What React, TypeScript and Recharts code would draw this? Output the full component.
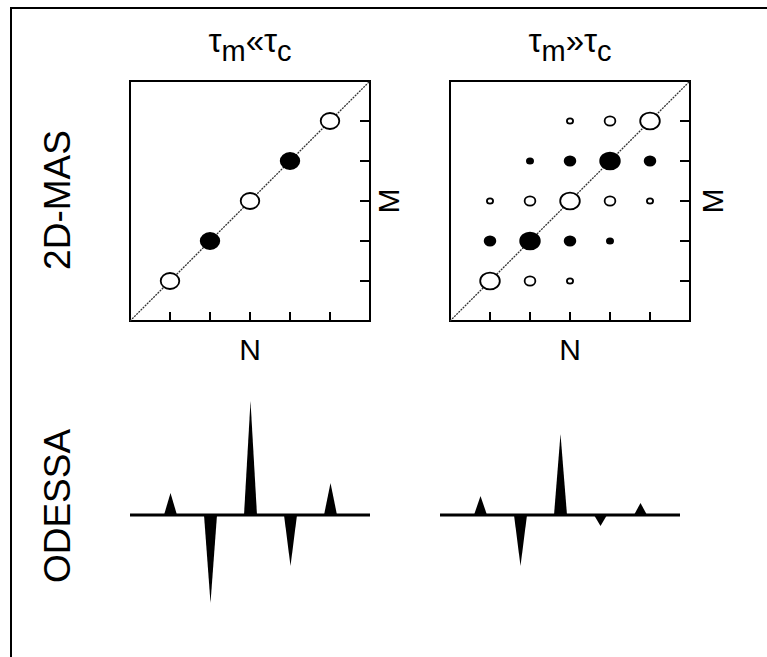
import React from "react";
import {
	ScatterChart,
	Scatter,
	XAxis,
	YAxis,
	ReferenceArea,
	ReferenceLine,
	BarChart,
	Bar,
} from "recharts";

// grid positions used for the N / M tick marks
const gridTicks = [1, 2, 3, 4, 5];
const nTicks = gridTicks.map((n) => ({ n, m: 0 }));
const mTicks = gridTicks.map((m) => ({ n: 6, m }));
const diagonal = [
	{ n: 0, m: 0 },
	{ n: 6, m: 6 },
];

// 2D-MAS cross peaks: n, m and relative intensity (open = positive, filled = negative)
const fastOpen = [
	{ n: 1, m: 1, amp: 0.9 },
	{ n: 3, m: 3, amp: 0.9 },
	{ n: 5, m: 5, amp: 0.9 },
];
const fastFilled = [
	{ n: 2, m: 2, amp: 0.9 },
	{ n: 4, m: 4, amp: 0.9 },
];
const slowOpen = [
	{ n: 1, m: 1, amp: 1 },
	{ n: 3, m: 3, amp: 1 },
	{ n: 5, m: 5, amp: 1 },
	{ n: 2, m: 1, amp: 0.3 },
	{ n: 3, m: 1, amp: 0.1 },
	{ n: 1, m: 3, amp: 0.1 },
	{ n: 2, m: 3, amp: 0.3 },
	{ n: 4, m: 3, amp: 0.3 },
	{ n: 5, m: 3, amp: 0.1 },
	{ n: 3, m: 5, amp: 0.1 },
	{ n: 4, m: 5, amp: 0.3 },
];
const slowFilled = [
	{ n: 2, m: 2, amp: 1 },
	{ n: 4, m: 4, amp: 1 },
	{ n: 1, m: 2, amp: 0.3 },
	{ n: 3, m: 2, amp: 0.3 },
	{ n: 4, m: 2, amp: 0.1 },
	{ n: 2, m: 4, amp: 0.1 },
	{ n: 3, m: 4, amp: 0.3 },
	{ n: 5, m: 4, amp: 0.3 },
];

// ODESSA spectra: sideband position and signed amplitude
const fastSpectrum = [
	{ pos: 1, amp: 22 },
	{ pos: 2, amp: -88 },
	{ pos: 3, amp: 114 },
	{ pos: 4, amp: -51 },
	{ pos: 5, amp: 32 },
];
const slowSpectrum = [
	{ pos: 1, amp: 19 },
	{ pos: 2, amp: -51 },
	{ pos: 3, amp: 81 },
	{ pos: 4, amp: -11 },
	{ pos: 5, amp: 12 },
];

const FONT = '"Liberation Sans", Arial, sans-serif';

const Peak = (filled: boolean) => (props: any) => {
	const { cx, cy, payload } = props;
	const rx = 9.8 * Math.sqrt(payload.amp);
	return (
		<ellipse
			cx={cx}
			cy={cy}
			rx={rx}
			ry={rx * 0.86}
			fill={filled ? "#000" : "#fff"}
			stroke="#000"
			strokeWidth={1.8}
		/>
	);
};

// inward tick marks on the bottom and right edges of the frame
const UpTick = ({ cx, cy }: any) => (
	<line x1={cx} y1={cy} x2={cx} y2={cy - 9} stroke="#000" strokeWidth={2} />
);
const LeftTick = ({ cx, cy }: any) => (
	<line x1={cx} y1={cy} x2={cx - 10} y2={cy} stroke="#000" strokeWidth={2} />
);

const Spike = (props: any) => {
	const { x, y, width, height, payload } = props;
	const top = Math.min(y, y + height);
	const bottom = Math.max(y, y + height);
	const tip = payload.amp >= 0 ? top : bottom;
	const base = payload.amp >= 0 ? bottom : top;
	return (
		<path
			d={`M${x},${base} L${x + width / 2},${tip} L${x + width},${base} Z`}
			fill="#000"
		/>
	);
};

const MasPanel = ({ open, filled }: { open: any[]; filled: any[] }) => (
	<ScatterChart
		width={300}
		height={300}
		margin={{ top: 30, right: 30, bottom: 30, left: 30 }}
	>
		<XAxis type="number" dataKey="n" domain={[0, 6]} hide />
		<YAxis type="number" dataKey="m" domain={[0, 6]} hide />
		<Scatter
			data={diagonal}
			line={{ stroke: "#333", strokeWidth: 1.3, strokeDasharray: "2 1" }}
			shape={() => <g />}
			isAnimationActive={false}
		/>
		<Scatter data={open} shape={Peak(false)} isAnimationActive={false} />
		<Scatter data={filled} shape={Peak(true)} isAnimationActive={false} />
		<Scatter data={nTicks} shape={UpTick} isAnimationActive={false} />
		<Scatter data={mTicks} shape={LeftTick} isAnimationActive={false} />
		<ReferenceArea
			x1={0}
			x2={6}
			y1={0}
			y2={6}
			fill="none"
			stroke="#000"
			strokeWidth={2}
			ifOverflow="visible"
		/>
	</ScatterChart>
);

const OdessaPanel = ({ data }: { data: any[] }) => (
	<BarChart
		width={300}
		height={280}
		data={data}
		margin={{ top: 30, right: 30, bottom: 30, left: 30 }}
	>
		<XAxis type="number" dataKey="pos" domain={[0, 6]} hide />
		<YAxis type="number" domain={[-100, 120]} hide />
		<ReferenceLine y={0} stroke="#000" strokeWidth={3} />
		<Bar dataKey="amp" barSize={13} shape={Spike} isAnimationActive={false} />
	</BarChart>
);

const Text = ({
	x,
	y,
	size,
	rotate,
	children,
}: {
	x: number;
	y: number;
	size: number;
	rotate?: boolean;
	children: React.ReactNode;
}) => (
	<div
		style={{
			position: "absolute",
			left: x,
			top: y,
			fontSize: size,
			lineHeight: 1,
			whiteSpace: "nowrap",
			transform: rotate
				? "translate(-50%, -50%) rotate(-90deg)"
				: "translateX(-50%)",
		}}
	>
		{children}
	</div>
);

const Sub = ({ children }: { children: React.ReactNode }) => (
	<span style={{ position: "relative", top: 9, fontSize: 29 }}>{children}</span>
);

export default function App() {
	return (
		<div
			style={{
				position: "absolute",
				left: 0,
				top: 0,
				width: 767,
				height: 657,
				background: "#fff",
				fontFamily: FONT,
				color: "#000",
				overflow: "hidden",
			}}
		>
			<div
				style={{
					position: "absolute",
					left: 10,
					top: 7,
					width: 757,
					height: 650,
					borderLeft: "2px solid #000",
					borderTop: "2px solid #000",
					boxSizing: "border-box",
				}}
			/>
			<div style={{ position: "absolute", left: 100, top: 51 }}>
				<MasPanel open={fastOpen} filled={fastFilled} />
			</div>
			<div style={{ position: "absolute", left: 420, top: 51 }}>
				<MasPanel open={slowOpen} filled={slowFilled} />
			</div>
			<div style={{ position: "absolute", left: 100, top: 365 }}>
				<OdessaPanel data={fastSpectrum} />
			</div>
			<div style={{ position: "absolute", left: 410, top: 365 }}>
				<OdessaPanel data={slowSpectrum} />
			</div>

			<Text x={250} y={24} size={33}>
				τ<Sub>m</Sub>«τ<Sub>c</Sub>
			</Text>
			<Text x={570} y={24} size={33}>
				τ<Sub>m</Sub>»τ<Sub>c</Sub>
			</Text>
			<Text x={250} y={335} size={30}>
				N
			</Text>
			<Text x={570} y={335} size={30}>
				N
			</Text>
			<Text x={389} y={201} size={30} rotate>
				M
			</Text>
			<Text x={713} y={201} size={30} rotate>
				M
			</Text>
			<Text x={57} y={200} size={37} rotate>
				2D-MAS
			</Text>
			<Text x={57} y={506} size={37} rotate>
				ODESSA
			</Text>
		</div>
	);
}
